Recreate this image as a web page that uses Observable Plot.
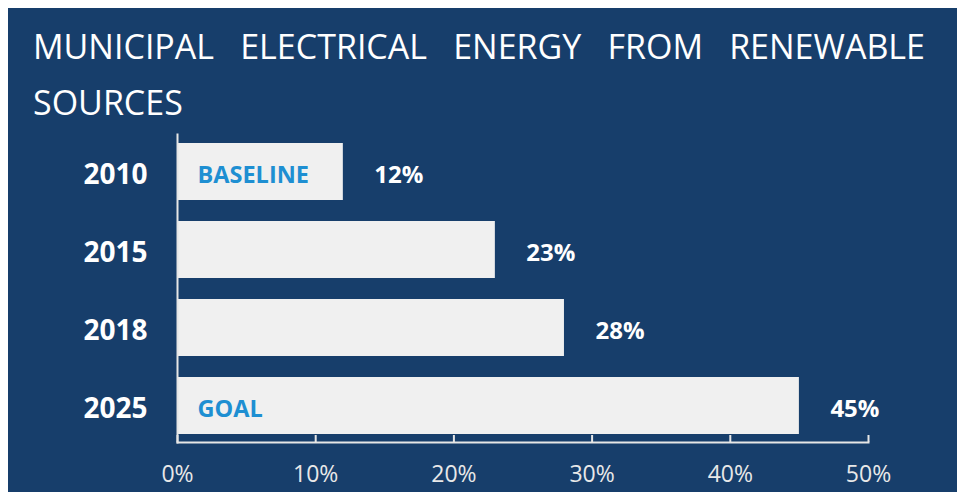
<!DOCTYPE html>
<html>
<head>
<meta charset="utf-8">
<script src="https://cdn.jsdelivr.net/npm/d3@7"></script>
<script src="https://cdn.jsdelivr.net/npm/@observablehq/plot@0.6"></script>
<style>
  html, body { margin: 0; padding: 0; background: #ffffff; }
  #panel {
    position: absolute; left: 8px; top: 8px;
    width: 949px; height: 484px;
    background: #173e6b;
    font-family: "Open Sans", "Noto Sans", sans-serif;
    overflow: hidden;
  }
  #title {
    box-sizing: border-box;
    height: 117px;
    padding: 10px 32px 0 25px;
    color: #ffffff;
    font-size: 34px;
    font-weight: 400;
    line-height: 56px;
    text-align: justify;
  }
  #chart svg { display: block; }
</style>
</head>
<body>
<div id="panel">
  <div id="title">MUNICIPAL ELECTRICAL ENERGY FROM RENEWABLE SOURCES</div>
  <div id="chart"></div>
</div>
<script>
// Share of municipal electricity from renewable sources, by year
const years = ["2010", "2015", "2018", "2025"];
const shares = [12, 23, 28, 45];
const notes = ["BASELINE", "", "", "GOAL"];
const tickValues = [0, 10, 20, 30, 40, 50];

const rows = years.map((year, i) => ({year, share: shares[i], note: notes[i]}));

const width = 949, height = 367;
const marginTop = 9, marginBottom = 50, marginLeft = 169, marginRight = 89;
const plotHeight = height - marginTop - marginBottom;

const chart = Plot.plot({
  width, height, marginTop, marginBottom, marginLeft, marginRight,
  style: {background: "transparent", fontFamily: "'Open Sans', 'Noto Sans', sans-serif"},
  x: {domain: [0, 50], label: null},
  y: {domain: years, paddingInner: 0.27, paddingOuter: 0.1, label: null},
  marks: [
    Plot.barX(rows, {x: "share", y: "year", fill: "#f0f0f0"}),
    Plot.text(rows.filter(d => d.note), {
      x: 0, y: "year", text: "note", textAnchor: "start", dx: 20, dy: 3,
      fill: "#1e8fd2", fontSize: 23.5, fontWeight: "bold"
    }),
    Plot.text(rows, {
      x: "share", y: "year", text: d => `${d.share}%`, textAnchor: "start", dx: 31, dy: 3,
      fill: "#ffffff", fontSize: 24, fontWeight: "bold"
    }),
    // axis lines along the left and bottom of the plot area
    Plot.frame({anchor: "bottom", stroke: "#e6e6e6", strokeWidth: 2}),
    Plot.frame({anchor: "left", stroke: "#e6e6e6", strokeWidth: 2}),
    // short upward tick marks on the x axis
    Plot.ruleX(tickValues, {x: d => d, insetTop: plotHeight - 7, stroke: "#e6e6e6", strokeWidth: 2}),
    Plot.axisX(tickValues, {
      anchor: "bottom", tickSize: 0, tickPadding: 23, tickFormat: d => `${d}%`,
      fill: "#e8e8e8", fontSize: 23, fontWeight: 400, label: null
    }),
    Plot.axisY({
      anchor: "left", tickSize: 0, tickPadding: 30, dy: 3,
      fill: "#ffffff", fontSize: 28, fontWeight: "bold", label: null
    })
  ]
});
document.getElementById("chart").append(chart);
</script>
</body>
</html>
